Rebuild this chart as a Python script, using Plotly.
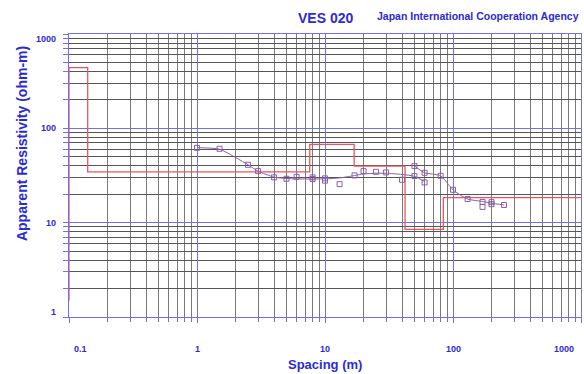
import math
import plotly.graph_objects as go

# Layered resistivity model: depth boundaries (m) and layer resistivities (ohm-m)
model_depth = [0.1, 0.14, 7.6, 16.9, 42.2, 84.0, 1000.0]
model_rho = [440.0, 34.6, 67.5, 39.8, 8.5, 18.4, 18.4]
model_base_rho = 1.5  # lower end of the first vertical segment

# Field measurements (AB/2 spacing in m, apparent resistivity in ohm-m)
obs_spacing = [1.0, 1.5, 2.5, 3.0, 4.0, 5.0, 6.0, 8.0, 8.0, 10.0, 10.0, 13.0,
               17.0, 20.0, 25.0, 30.0, 40.0, 50.0, 50.0, 60.0, 60.0, 80.0,
               100.0, 130.0, 170.0, 170.0, 200.0, 200.0, 250.0]
obs_rho = [62.1, 60.7, 41.1, 35.2, 30.2, 29.2, 30.6, 30.2, 29.0, 29.5, 27.9, 25.6,
           31.7, 35.2, 34.6, 34.1, 28.5, 39.8, 31.2, 33.8, 26.7, 31.4,
           22.3, 17.8, 16.6, 14.7, 16.5, 15.7, 15.4]

# Smoothed sounding curve, first segment
curve1_spacing = [1.0, 1.5, 2.5, 3.0, 4.0, 5.0, 6.0, 8.0, 10.0, 13.0, 17.0, 20.0,
                  25.0, 30.0, 40.0, 50.0, 60.0]
curve1_rho = [62.3, 60.0, 41.1, 35.1, 30.4, 29.4, 29.1, 29.1, 29.1, 29.8, 31.6, 32.8,
              33.4, 33.4, 32.4, 31.0, 27.3]
# Smoothed sounding curve, second segment
curve2_spacing = [50.0, 60.0, 80.0, 100.0, 130.0, 170.0, 200.0, 250.0]
curve2_rho = [39.8, 33.8, 31.4, 22.3, 17.8, 16.8, 16.1, 15.4]

x_ticks = [0.1, 1, 10, 100, 1000]
x_ticktext = ["0.1", "1", "10", "100", "1000"]
y_ticks = [1, 10, 100, 1000]
y_ticktext = ["1", "10", "100", "1000"]

BLUE = "#2b2bd6"
GRID_MAJOR = "#6f6ff2"
RED = "#f2505e"
PURPLE = "#8a5fa6"
FONT = "Liberation Sans, Arial, sans-serif"

fig = go.Figure()

fig.add_trace(go.Scatter(
    x=[model_depth[0]] + model_depth,
    y=[model_base_rho] + model_rho,
    mode="lines", line=dict(color=RED, width=1.3, shape="hv"),
    hoverinfo="skip", showlegend=False,
))
fig.add_trace(go.Scatter(
    x=curve1_spacing, y=curve1_rho, mode="lines",
    line=dict(color=PURPLE, width=1, shape="spline", smoothing=0.6),
    showlegend=False,
))
fig.add_trace(go.Scatter(
    x=curve2_spacing, y=curve2_rho, mode="lines",
    line=dict(color=PURPLE, width=1, shape="spline", smoothing=0.6),
    showlegend=False,
))
fig.add_trace(go.Scatter(
    x=obs_spacing, y=obs_rho, mode="markers",
    marker=dict(symbol="square-open", size=5, color=PURPLE, line=dict(width=1)),
    showlegend=False,
))

axis_common = dict(
    type="log", dtick=1, showticklabels=False,
    showgrid=True, gridcolor=GRID_MAJOR, gridwidth=1,
    showline=True, linecolor=GRID_MAJOR, linewidth=1, mirror=True,
    ticks="outside", ticklen=5, tickcolor=GRID_MAJOR,
    zeroline=False, layer="below traces",
)

fig.update_xaxes(
    range=[-1, 3], tick0=0,
    minor=dict(dtick="D1", showgrid=True, gridcolor="#7a7a7a", gridwidth=1,
               ticks="outside", ticklen=4, tickcolor="#7a7a7a"),
    **axis_common,
)
fig.update_yaxes(
    range=[0, 3], tick0=0,
    minor=dict(dtick="D1", showgrid=True, gridcolor="#555555", gridwidth=1,
               ticks="outside", ticklen=5, tickcolor=GRID_MAJOR),
    **axis_common,
)

annotations = []
# x tick labels; the end labels are pulled inward
x_shift = {0.1: 11, 1000: -17}
for v, t in zip(x_ticks, x_ticktext):
    annotations.append(dict(
        x=math.log10(v), xref="x", y=0, yref="paper", yshift=-32,
        text=t, showarrow=False, xanchor="center", yanchor="middle",
        xshift=x_shift.get(v, 0),
        font=dict(family=FONT, size=9, color=BLUE, weight="bold"),
    ))
# y tick labels
y_shift = {1: 5, 1000: -5}
for v, t in zip(y_ticks, y_ticktext):
    annotations.append(dict(
        x=0, xref="paper", xshift=-11, y=math.log10(v), yref="y",
        yshift=y_shift.get(v, 0),
        text=t, showarrow=False, xanchor="right", yanchor="middle",
        font=dict(family=FONT, size=9, color=BLUE, weight="bold"),
    ))
# titles
annotations.append(dict(
    x=0.5, xref="paper", y=1, yref="paper", yshift=16, text="VES 020",
    showarrow=False, xanchor="center", yanchor="middle",
    font=dict(family=FONT, size=14, color=BLUE, weight="bold"),
))
annotations.append(dict(
    x=1, xref="paper", y=1, yref="paper", yshift=18,
    text="Japan International Cooperation Agency",
    showarrow=False, xanchor="right", yanchor="middle",
    font=dict(family=FONT, size=10.5, color=BLUE, weight="bold"),
))
annotations.append(dict(
    x=0.5, xref="paper", y=0, yref="paper", yshift=-47, text="Spacing (m)",
    showarrow=False, xanchor="center", yanchor="middle",
    font=dict(family=FONT, size=13, color=BLUE, weight="bold"),
))
annotations.append(dict(
    x=0, xref="paper", xshift=-47, y=0.611, yref="paper",
    text="Apparent Resistivity (ohm-m)", textangle=-90,
    showarrow=False, xanchor="center", yanchor="middle",
    font=dict(family=FONT, size=14, color=BLUE, weight="bold"),
))

fig.update_layout(
    width=584, height=374,
    margin=dict(l=69, r=3, t=34, b=57),
    paper_bgcolor="white", plot_bgcolor="white",
    annotations=annotations,
    showlegend=False,
)

fig.write_html("out.html")
